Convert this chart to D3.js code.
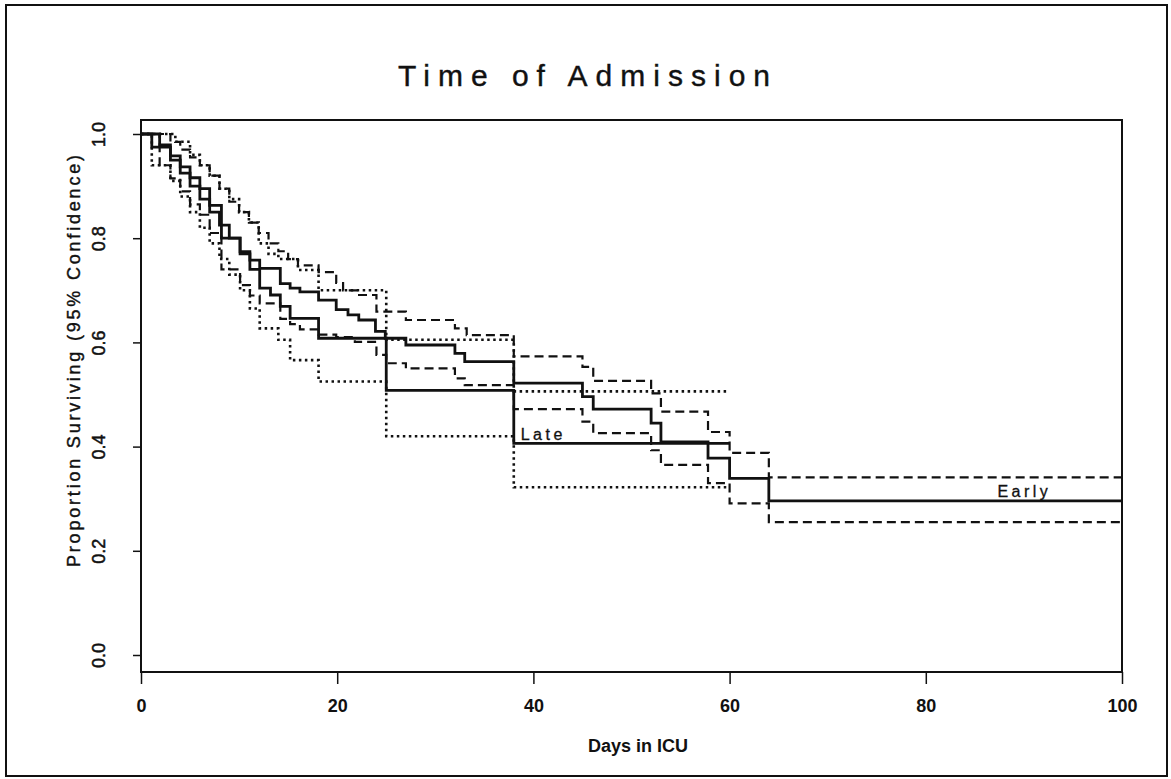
<!DOCTYPE html>
<html>
<head>
<meta charset="utf-8">
<script src="https://cdn.jsdelivr.net/npm/d3@7"></script>
<style>
  body { margin: 0; background: #fff; }
  svg { display: block; }
  text { font-family: "Liberation Sans", Arial, sans-serif; fill: #111; }
</style>
</head>
<body>
<script>
// Kaplan-Meier steps: [day, proportion] - value holds from that day on
const earlyEst = [[0,1],[1.9,0.979],[3,0.958],[4,0.937],[5,0.916],[6,0.895],[7,0.863],[8.2,0.80],[10.1,0.774],[11.1,0.758],[12.1,0.742],[14.2,0.713],[15.2,0.704],[16.2,0.697],[18.1,0.681],[19.9,0.663],[21.1,0.653],[22.2,0.643],[23.9,0.621],[24.9,0.608],[27,0.595],[32,0.579],[33,0.563],[38,0.522],[45,0.496],[46.1,0.472],[52,0.445],[53,0.409],[57.8,0.378],[60,0.339],[64,0.296]]
const earlyUpper = [[0,1],[3,0.985],[4,0.97],[5,0.955],[6,0.94],[7,0.92],[8,0.895],[9,0.87],[10,0.85],[11,0.83],[12,0.81],[13,0.79],[14,0.775],[15,0.76],[16,0.748],[18.1,0.735],[19.9,0.714],[20.6,0.70],[22,0.691],[24,0.659],[27,0.643],[32,0.627],[33.2,0.614],[38,0.573],[45,0.553],[46.1,0.526],[52,0.502],[53,0.467],[57.8,0.428],[60,0.388],[64,0.341]]
const earlyLower = [[0,1],[1.9,0.94],[3,0.915],[4,0.89],[5,0.865],[6,0.845],[7,0.81],[8.2,0.74],[10.1,0.71],[11.1,0.69],[12.1,0.675],[14.2,0.645],[15.2,0.635],[16.2,0.625],[18.1,0.615],[19.9,0.61],[21.8,0.601],[24,0.576],[25,0.56],[27,0.55],[32,0.531],[33,0.518],[38,0.472],[45,0.448],[46.1,0.426],[52,0.393],[53,0.365],[57.8,0.33],[60,0.291],[64,0.255]]
const lateEst = [[0,1],[1.1,0.975],[3,0.95],[4,0.925],[5,0.90],[6,0.875],[7,0.85],[8,0.825],[9,0.80],[10.1,0.77],[11.1,0.74],[12.1,0.704],[13.2,0.691],[14.2,0.669],[15.2,0.646],[18.1,0.608],[25,0.508],[38,0.406]]
const lateUpper = [[0,1],[3.5,0.985],[5,0.96],[6,0.94],[7,0.92],[8,0.895],[9,0.875],[10,0.85],[11,0.83],[12,0.79],[13,0.77],[14,0.76],[16,0.739],[18.1,0.70],[25,0.605],[38,0.506]]
const lateLower = [[0,1],[1.1,0.94],[3,0.91],[4,0.88],[5,0.85],[6,0.82],[7,0.79],[8,0.76],[9,0.73],[10.1,0.70],[11.1,0.665],[12.1,0.627],[14,0.605],[15.2,0.566],[18.1,0.525],[25,0.42],[38,0.322]]
const earlyEnd = 100
const lateEnd = 60

const xTicks = [0, 20, 40, 60, 80, 100]
const yTicks = [0, 0.2, 0.4, 0.6, 0.8, 1.0]
const groupLabels = [
  {name: 'Early', day: 87.3, value: 0.303},
  {name: 'Late', day: 38.7, value: 0.412}
]

const width = 1171
const height = 779
const box = {left: 141, right: 1122, top: 120, bottom: 672}

const svg = d3.select('body').append('svg')
    .attr('width', width)
    .attr('height', height)

// outer frame
svg.append('rect')
    .attr('x', 6).attr('y', 5)
    .attr('width', 1161).attr('height', 771)
    .attr('fill', 'none')
    .attr('stroke', '#111')
    .attr('stroke-width', 2)

const x = d3.scaleLinear().domain([0, 100]).range([box.left, box.right])
const y = d3.scaleLinear().domain([0, 1]).range([655, 134])

svg.append('rect')
    .attr('x', box.left).attr('y', box.top)
    .attr('width', box.right - box.left).attr('height', box.bottom - box.top)
    .attr('fill', 'none')
    .attr('stroke', '#111')
    .attr('stroke-width', 2)

// title
svg.append('text')
    .attr('x', 584).attr('y', 86)
    .attr('text-anchor', 'middle')
    .attr('font-size', 30)
    .attr('stroke', '#111')
    .attr('stroke-width', 0.4)
    .attr('textLength', 372)
    .attr('lengthAdjust', 'spacing')
    .text('Time of Admission')

// axes
const xAxis = d3.axisBottom(x)
    .tickValues(xTicks)
    .tickSize(12)
    .tickPadding(15)
    .tickFormat(d3.format('d'))
const gx = svg.append('g')
    .attr('transform', `translate(0,${box.bottom})`)
    .call(xAxis)
gx.select('path.domain').remove()
gx.selectAll('line').attr('stroke', '#111').attr('stroke-width', 1.5)
gx.selectAll('text')
    .attr('font-size', 18)
    .attr('font-weight', 'bold')
    .attr('fill', '#111')

const yAxis = d3.axisLeft(y)
    .tickValues(yTicks)
    .tickSize(8)
    .tickFormat(d3.format('.1f'))
const gy = svg.append('g')
    .attr('transform', `translate(${box.left},0)`)
    .call(yAxis)
gy.select('path.domain').remove()
gy.selectAll('line').attr('stroke', '#111').attr('stroke-width', 1.5)
gy.selectAll('text')
    .attr('font-size', 18)
    .attr('fill', '#111')
    .attr('stroke', '#111')
    .attr('stroke-width', 0.5)
    .attr('text-anchor', 'middle')
    .attr('dy', null)
    .attr('x', null)
    .attr('transform', 'translate(-36,0) rotate(-90)')

svg.append('text')
    .attr('x', 638).attr('y', 752)
    .attr('text-anchor', 'middle')
    .attr('font-size', 18)
    .attr('font-weight', 'bold')
    .text('Days in ICU')

svg.append('text')
    .attr('transform', 'translate(80,361) rotate(-90)')
    .attr('text-anchor', 'middle')
    .attr('font-size', 18)
    .attr('stroke', '#111')
    .attr('stroke-width', 0.4)
    .attr('textLength', 412)
    .attr('lengthAdjust', 'spacing')
    .text('Proportion Surviving (95% Confidence)')

// survival curves
const line = d3.line()
    .x(d => x(d[0]))
    .y(d => y(d[1]))
    .curve(d3.curveStepAfter)

function withEnd(steps, end) {
  return steps.concat([[end, steps[steps.length - 1][1]]])
}

const curves = [
  {data: withEnd(earlyUpper, earlyEnd), dash: '9,5', w: 2.2},
  {data: withEnd(earlyLower, earlyEnd), dash: '9,5', w: 2.2},
  {data: withEnd(lateUpper, lateEnd), dash: '2.5,3.5', w: 2.6},
  {data: withEnd(lateLower, lateEnd), dash: '2.5,3.5', w: 2.6},
  {data: withEnd(earlyEst, earlyEnd), dash: null, w: 2.8},
  {data: withEnd(lateEst, lateEnd), dash: null, w: 2.8}
]

svg.append('g').selectAll('path')
  .data(curves)
  .join('path')
    .attr('d', d => line(d.data))
    .attr('fill', 'none')
    .attr('stroke', '#111')
    .attr('stroke-width', d => d.w)
    .attr('stroke-dasharray', d => d.dash)

svg.append('g').selectAll('text')
  .data(groupLabels)
  .join('text')
    .attr('x', d => x(d.day))
    .attr('y', d => y(d.value))
    .attr('font-size', 16)
    .attr('letter-spacing', 3.5)
    .attr('stroke', '#111')
    .attr('stroke-width', 0.3)
    .text(d => d.name)
</script>
</body>
</html>
